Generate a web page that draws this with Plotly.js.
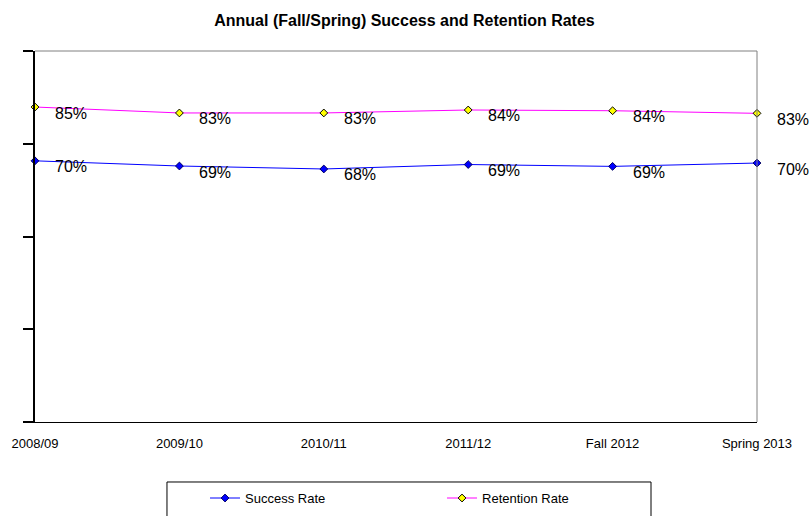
<!DOCTYPE html>
<html>
<head>
<meta charset="utf-8">
<script src="https://cdn.plot.ly/plotly-3.0.1.min.js"></script>
<style>html,body{margin:0;padding:0;background:#fff;}#chart{width:809px;height:516px;}</style>
</head>
<body>
<div id="chart"></div>
<script>
const categories = ["2008/09", "2009/10", "2010/11", "2011/12", "Fall 2012", "Spring 2013"];
const successRate = [0.704, 0.690, 0.682, 0.694, 0.689, 0.698];
const retentionRate = [0.849, 0.833, 0.833, 0.841, 0.839, 0.832];
const yTicks = [0, 0.25, 0.5, 0.75, 1];

const FONT = "Liberation Sans, Arial, sans-serif";

function labelAnnotations(values) {
  return values.map((v, i) => ({
    x: categories[i], y: v, xref: 'x', yref: 'y',
    text: Math.round(v * 100) + '%',
    showarrow: false, xanchor: 'left', yanchor: 'middle',
    xshift: 18, yshift: -6,
    font: {family: FONT, size: 16, color: '#000'}
  }));
}

const traces = [
  {
    x: categories, y: successRate, name: 'Success Rate', type: 'scatter', mode: 'lines+markers',
    line: {color: '#0000FF', width: 1},
    marker: {symbol: 'diamond', size: 6, color: '#0000FF', line: {color: '#000060', width: 1}},
    cliponaxis: false
  },
  {
    x: categories, y: retentionRate, name: 'Retention Rate', type: 'scatter', mode: 'lines+markers',
    line: {color: '#FF00FF', width: 1},
    marker: {symbol: 'diamond', size: 6, color: '#FFFF00', line: {color: '#000000', width: 1}},
    cliponaxis: false
  }
];

const layout = {
  width: 809, height: 516,
  paper_bgcolor: '#fff', plot_bgcolor: '#fff',
  margin: {l: 35, r: 52, t: 51, b: 94, autoexpand: false},
  font: {family: FONT, size: 13, color: '#000'},
  title: {
    text: 'Annual (Fall/Spring) Success and Retention Rates',
    font: {family: FONT, size: 16, weight: 'bold', color: '#000'},
    x: 0.5, xanchor: 'center', y: 1 - 20 / 516, yanchor: 'middle', yref: 'container'
  },
  xaxis: {
    type: 'category', range: [0, 5], showgrid: false, zeroline: false,
    showline: true, linecolor: '#000', linewidth: 1,
    ticks: 'outside', ticklen: 9, tickcolor: 'rgba(0,0,0,0)',
    tickfont: {family: FONT, size: 13, color: '#000'}
  },
  yaxis: {
    range: [0, 1], tickvals: yTicks, showticklabels: false, showgrid: false, zeroline: false,
    showline: true, linecolor: '#000', linewidth: 2,
    ticks: 'outside', ticklen: 10, tickwidth: 2, tickcolor: '#000'
  },
  showlegend: true,
  legend: {
    orientation: 'h', x: 0.2355, xanchor: 'left', y: -0.205, yanchor: 'middle',
    font: {family: FONT, size: 13, color: '#000'},
    bgcolor: 'rgba(0,0,0,0)', borderwidth: 0,
    entrywidth: 192, entrywidthmode: 'pixels', itemclick: false
  },
  shapes: [
    {type: 'line', xref: 'paper', yref: 'paper', x0: 0, x1: 1, y0: 1, y1: 1, line: {color: '#808080', width: 1}},
    {type: 'line', xref: 'paper', yref: 'paper', x0: 1, x1: 1, y0: 0, y1: 1, line: {color: '#808080', width: 1}},
    {type: 'rect', xref: 'paper', yref: 'paper', x0: 0.1828, x1: 0.8532, y0: -0.1617, y1: -0.34, line: {color: '#000', width: 1}, fillcolor: 'rgba(0,0,0,0)'}
  ],
  annotations: labelAnnotations(successRate).concat(labelAnnotations(retentionRate))
};

Plotly.newPlot('chart', traces, layout, {displayModeBar: false, staticPlot: true});
</script>
</body>
</html>
